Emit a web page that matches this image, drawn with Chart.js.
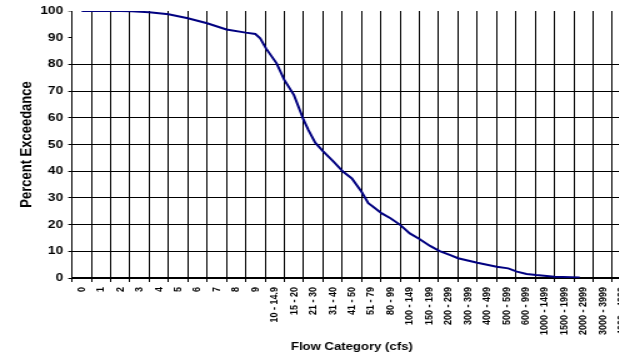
<!DOCTYPE html>
<html>
<head>
<meta charset="utf-8">
<script src="https://cdn.jsdelivr.net/npm/chart.js@4"></script>
<style>
  html, body { margin: 0; padding: 0; background: #fff; overflow: hidden; }
  #flow-chart { display: block; }
</style>
</head>
<body>
<!-- the reference is stretched sideways, so the bitmap is drawn narrower and widened by CSS -->
<canvas id="flow-chart" width="516" height="357" style="width:645px;height:357px"></canvas>
<script>
// Flow duration curve: percent exceedance by flow category

// Flow categories (x axis)
const flowCategories = [
  "0", "1", "2", "3", "4", "5", "6", "7", "8", "9",
  "10 - 14.9", "15 - 20", "21 - 30", "31 - 40", "41 - 50",
  "51 - 79", "80 - 99", "100 - 149", "150 - 199", "200 - 299",
  "300 - 399", "400 - 499", "500 - 599", "600 - 999", "1000 - 1499",
  "1500 - 1999", "2000 - 2999", "3000 - 3999", "4000 - 4999",
];

// Curve: position along the category axis (category index) and percent
const curvePosition = [
  0, 1, 2, 2.6, 3.5, 4.5, 5.5, 6.5, 7.5, 8.5,
  9.0, 9.25, 9.55, 10.1, 10.5, 11.0, 11.5, 11.75, 12.1, 12.5,
  13.05, 13.55, 14.0, 14.5, 14.85, 15.05, 15.55, 16.0, 16.5, 17.0,
  17.5, 18.05, 18.55, 19.1, 19.5, 20.5, 21.5, 22.1, 22.55, 23.05,
  23.55, 24.5, 25.8,
];
const percentExceedance = [
  100, 100, 100, 99.9, 99.5, 98.8, 97.3, 95.4, 93.1, 91.9,
  91.4, 89.8, 86.0, 80.4, 74.2, 68.5, 59.2, 55.4, 50.7, 47.5,
  43.6, 39.8, 37.3, 32.3, 28.0, 27.0, 24.2, 22.4, 19.9, 16.7,
  14.6, 12.0, 10.1, 8.6, 7.4, 5.7, 4.2, 3.6, 2.4, 1.5,
  1.1, 0.5, 0.2,
];

// Y axis ticks
const yMin = 0;
const yMax = 100;
const yStep = 10;

const FONT = "'Liberation Sans', Arial, sans-serif";

const ctx = document.getElementById("flow-chart").getContext("2d");
const flowChart = new Chart(ctx, {
  type: "line",
  data: {
    labels: flowCategories,
    datasets: [
      {
        label: "Percent Exceedance",
        data: curvePosition.map((x, i) => ({ x: x, y: percentExceedance[i] })),
        xAxisID: "xCurve",
        borderColor: "#000080",
        borderWidth: 2,
        pointRadius: 0,
        tension: 0,
        fill: false,
      },
    ],
  },
  options: {
    responsive: false,
    animation: false,
    devicePixelRatio: 1,
    layout: {
      padding: { top: 11, right: 10.6, bottom: 0, left: 0 },
    },
    plugins: {
      legend: { display: false },
      tooltip: { enabled: false },
    },
    scales: {
      x: {
        type: "category",
        position: "bottom",
        offset: true,
        grid: {
          offset: true,
          color: "#000",
          lineWidth: 1,
          tickLength: 4,
        },
        border: { color: "#000", width: 2 },
        ticks: {
          autoSkip: false,
          minRotation: 90,
          maxRotation: 90,
          padding: 5,
          color: "#000",
          font: { family: FONT, size: 9, weight: "bold" },
        },
        title: {
          display: true,
          text: "Flow Category (cfs)",
          color: "#000",
          font: { family: FONT, size: 10.5, weight: "bold" },
          padding: { top: 0, bottom: 4 },
        },
        afterFit: function (scale) {
          scale.height = 79;
        },
      },
      // hidden linear axis so the curve can sit between category centres
      xCurve: {
        type: "linear",
        position: "bottom",
        display: false,
        min: -0.5,
        max: flowCategories.length - 0.5,
      },
      y: {
        min: yMin,
        max: yMax,
        grid: {
          color: function (c) {
            const v = c.tick && c.tick.value;
            return v === 90 || v === 100 ? "rgba(0,0,0,0)" : "#000";
          },
          tickColor: function (c) {
            const v = c.tick && c.tick.value;
            return v === 100 ? "#888" : "#000";
          },
          lineWidth: 1,
          tickLength: 3,
        },
        border: { color: "#000", width: 1 },
        ticks: {
          stepSize: yStep,
          padding: 4,
          color: "#000",
          font: { family: FONT, size: 11, weight: "bold" },
        },
        title: {
          display: true,
          text: "Percent Exceedance",
          color: "#000",
          font: { family: FONT, size: 13, weight: "bold" },
          padding: { top: 14, bottom: 0 },
        },
        afterFit: function (scale) {
          scale.width = 57.6;
        },
      },
    },
  },
});
</script>
</body>
</html>
